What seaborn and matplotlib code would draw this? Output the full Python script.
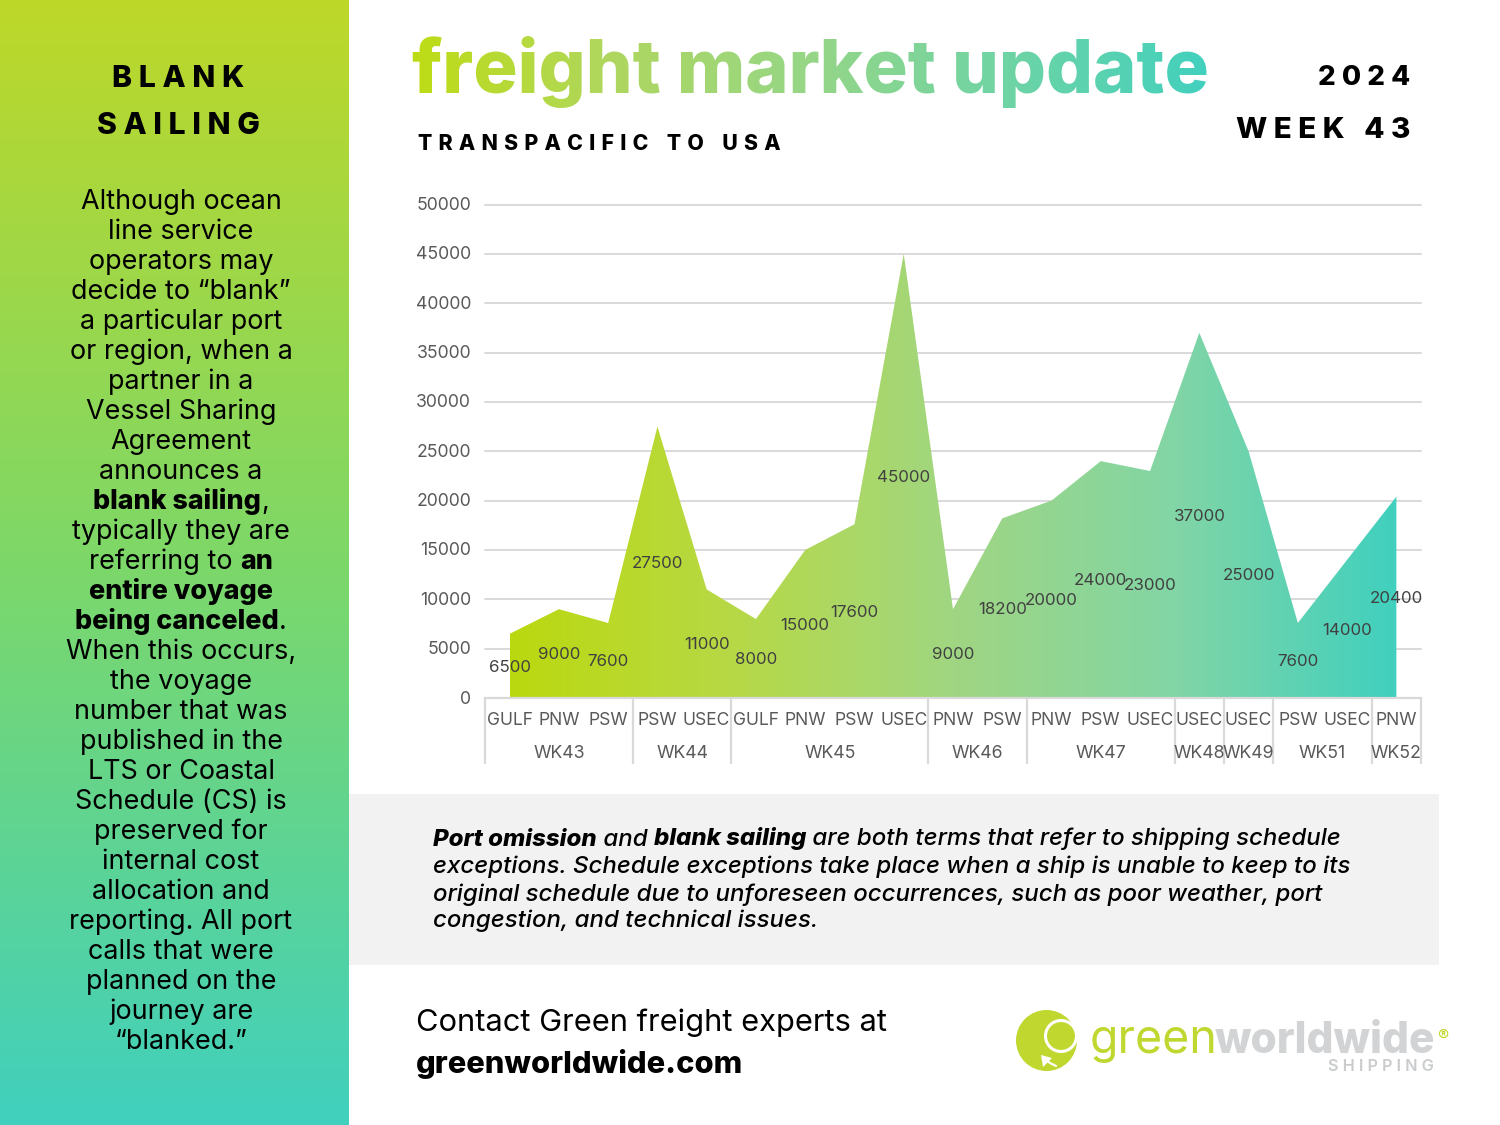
import numpy as np
import pandas as pd
import matplotlib
matplotlib.use("Agg")
import matplotlib.pyplot as plt
from matplotlib.patches import Rectangle, Circle, Polygon
from matplotlib.transforms import ScaledTranslation
import seaborn as sns

ports = ["GULF","PNW","PSW","PSW","USEC","GULF","PNW","PSW","USEC","PNW","PSW","PNW","PSW","USEC","USEC","USEC","PSW","USEC","PNW"]
values = [6500,9000,7600,27500,11000,8000,15000,17600,45000,9000,18200,20000,24000,23000,37000,25000,7600,14000,20400]
weeks = ["WK43","WK44","WK45","WK46","WK47","WK48","WK49","WK51","WK52"]
week_sizes = [3,2,4,2,3,1,1,2,1]
y_ticks = [0,5000,10000,15000,20000,25000,30000,35000,40000,45000,50000]

side_heading = ["B L A N K", "S A I L I N G"]
side_lines = ["Although ocean","line service","operators may","decide to “blank”","a particular port","or region, when a","partner in a","Vessel Sharing","Agreement","announces a",
 "**blank sailing**,","typically they are","referring to **an**","**entire voyage**","**being canceled**.","When this occurs,","the voyage","number that was","published in the","LTS or Coastal","Schedule (CS) is","preserved for","internal cost","allocation and","reporting. All port","calls that were","planned on the","journey are","“blanked.”"]
box_lines = ["**Port omission** and **blank sailing** are both terms that refer to shipping schedule",
 "exceptions. Schedule exceptions take place when a ship is unable to keep to its",
 "original schedule due to unforeseen occurrences, such as poor weather, port",
 "congestion, and technical issues."]

FONT = ["Inter", "DejaVu Sans"]
sns.set_theme(style="white")
plt.rcParams["font.family"] = FONT

fig = plt.figure(figsize=(15, 11.25), dpi=100, facecolor="white")
bg = fig.add_axes([0, 0, 1, 1], zorder=0)
bg.set_xlim(0, 1500); bg.set_ylim(1125, 0); bg.axis("off")
renderer = fig.canvas.get_renderer()

def ramp(stops, n=512):
    stops = np.array(stops, float)
    xs = np.linspace(0, 1, len(stops))
    t = np.linspace(0, 1, n)
    return np.stack([np.interp(t, xs, stops[:, i]) for i in range(3)], axis=1) / 255

side = ramp([(190,215,40),(125,216,105),(64,208,190)])
bg.imshow(side[:, None, :], extent=(0, 349, 1125, 0), aspect="auto", zorder=1)
bg.set_xlim(0, 1500); bg.set_ylim(1125, 0)
bg.add_patch(Rectangle((349, 794), 1090, 171, fc="#F2F2F2", ec="none", zorder=1))

def tw(s, **kw):
    t = bg.text(0, 0, s + ".", **kw); a = t.get_window_extent(renderer).width; t.remove()
    t = bg.text(0, 0, ".", **kw); b = t.get_window_extent(renderer).width; t.remove()
    return a - b

def runs(x, y, line, size, ha="left", color="black", style="normal", w_norm="medium", w_bold="heavy"):
    parts = line.split("**")
    kw = [dict(fontsize=size, style=style, fontweight=(w_bold if i % 2 else w_norm)) for i in range(len(parts))]
    ws = [tw(p, **k) if p else 0 for p, k in zip(parts, kw)]
    cx = x - (sum(ws) / 2 if ha == "center" else 0)
    for p, k, w in zip(parts, kw, ws):
        if p:
            bg.text(cx, y, p, color=color, va="baseline", ha="left", zorder=5, **k)
        cx += w

for s, y in zip(side_heading, [87, 134]):
    bg.text(178.5, y, s, fontsize=21.7, fontweight="heavy", ha="center", va="baseline", color="black", zorder=5)
for i, line in enumerate(side_lines):
    runs(181, 209 + 30 * i, line, 19.4, ha="center", w_norm="normal", w_bold="heavy")

title_stops = [(190,220,20),(175,215,95),(150,214,135),(110,212,165),(66,208,190)]
def grad_filter(img, dpi):
    out = img.copy()
    c = ramp(title_stops, img.shape[1])
    out[:, :, :3] = c[None, :, :]
    return out, 0, 0
tt = bg.text(412, 93, "freight market update", fontsize=53.2, fontweight="heavy", ha="left", va="baseline", color="black", zorder=5)
tt.set_agg_filter(grad_filter)
bg.text(418, 150, "T \u200aR \u200aA \u200aN \u200aS \u200aP \u200aA \u200aC \u200aI \u200aF \u200aI \u200aC    T \u200aO    U \u200aS \u200aA", fontsize=15.3, fontweight="heavy", va="baseline", color="black", zorder=5)
bg.text(1410, 85, "2 0 2 4", fontsize=20, fontweight="heavy", ha="right", va="baseline", color="black", zorder=5)
bg.text(1411, 138, "W E E K   4 3", fontsize=21.3, fontweight="heavy", ha="right", va="baseline", color="black", zorder=5)

for line, y in zip(box_lines, [845.5, 872.5, 900.5, 927.5]):
    runs(433, y, line, 17.3, style="italic", w_norm="medium", w_bold="heavy")
bg.text(416, 1031, "Contact Green freight experts at", fontsize=22.2, fontweight="normal", va="baseline", color="black", zorder=5)
bg.text(416, 1073, "greenworldwide.com", fontsize=22.2, fontweight="heavy", va="baseline", color="black", zorder=5)

# logo
LIME, GREY = "#C0D72F", "#D1D3D4"
bg.add_patch(Circle((1046.5, 1040.5), 30.5, fc=LIME, ec="none", zorder=3))
bg.add_patch(Circle((1061, 1036), 15.5, fc="none", ec="white", lw=2.2, zorder=4))
bg.add_patch(Polygon([(1041,1055),(1052,1058),(1043,1067)], fc="white", ec="none", zorder=4))
bg.plot([1046, 1050, 1056], [1060, 1063, 1066], color="white", lw=1.6, zorder=4)
bg.set_xlim(0, 1500); bg.set_ylim(1125, 0)
bg.text(1090, 1053, "green", fontsize=33.5, fontweight="normal", color=LIME, va="baseline", zorder=5)
bg.text(1215, 1053, "worldwide", fontsize=30.5, fontweight="heavy", color=GREY, va="baseline", zorder=5)
bg.text(1434, 1071, "S H I P P I N G", fontsize=11.7, fontweight="semibold", color="#C9CBCD", ha="right", va="baseline", zorder=5)
bg.text(1437, 1041, "®", fontsize=12, color=LIME, va="baseline", zorder=5)

# chart
L, R, T, B = 485, 1421, 204.5, 698
ax = fig.add_axes([L/1500, 1-B/1125, (R-L)/1500, (B-T)/1125], zorder=2)
ax.patch.set_alpha(0)
df = pd.DataFrame({"pos": np.arange(len(values)), "value": values, "port": ports})
sns.lineplot(data=df, x="pos", y="value", ax=ax, linewidth=0, color="#BBD80F", zorder=2)
ax.set_xlim(-0.5, len(values)-0.5); ax.set_ylim(0, 50000)
poly = ax.fill_between(df["pos"], 0, df["value"], facecolor="none", edgecolor="none")
area = ramp([(187,216,15),(183,217,70),(160,214,130),(130,213,165),(64,208,190)])
im = ax.imshow(area[None, :, :], extent=(0, len(values)-1, 0, 50000), aspect="auto", zorder=2)
im.set_clip_path(poly.get_paths()[0], transform=ax.transData)
ax.set_xlim(-0.5, len(values)-0.5); ax.set_ylim(0, 50000)

ax.set_yticks(y_ticks)
ax.set_yticklabels([str(v) for v in y_ticks], fontsize=12.7, color="#595959")
ax.tick_params(axis="y", length=0, pad=10)
for lab in ax.get_yticklabels():
    lab.set_transform(lab.get_transform() + ScaledTranslation(0, 1/100, fig.dpi_scale_trans))
ax.grid(axis="y", color="#D9D9D9", lw=1.4, zorder=1, clip_on=False)
ax.set_axisbelow(True)
for s in ["top", "left", "right"]:
    ax.spines[s].set_visible(False)
ax.spines["bottom"].set_color("#D9D9D9"); ax.spines["bottom"].set_linewidth(1.6)
ax.set_xlabel(""); ax.set_ylabel("")
ax.set_xticks(df["pos"]); ax.set_xticklabels(ports, fontsize=12.6, color="#595959")
ax.tick_params(axis="x", length=0, pad=10)

for p, v in zip(df["pos"], values):
    ax.annotate(str(v), (p, v/2), xytext=(0, -0.8), textcoords="offset points", ha="center", va="center", fontsize=12.2, color="#404040", zorder=6)

tr = ax.get_xaxis_transform()
edges = np.concatenate([[0], np.cumsum(week_sizes)]) - 0.5
for e in edges:
    ax.plot([e, e], [0, -65/(B-T)], transform=tr, color="#D9D9D9", lw=1.6, clip_on=False, zorder=1)
for wk, a, b in zip(weeks, edges[:-1], edges[1:]):
    ax.text((a+b)/2, -55/(B-T), wk, transform=tr, ha="center", va="center", fontsize=12.8, color="#595959")

fig.savefig("out.png", dpi=100)
